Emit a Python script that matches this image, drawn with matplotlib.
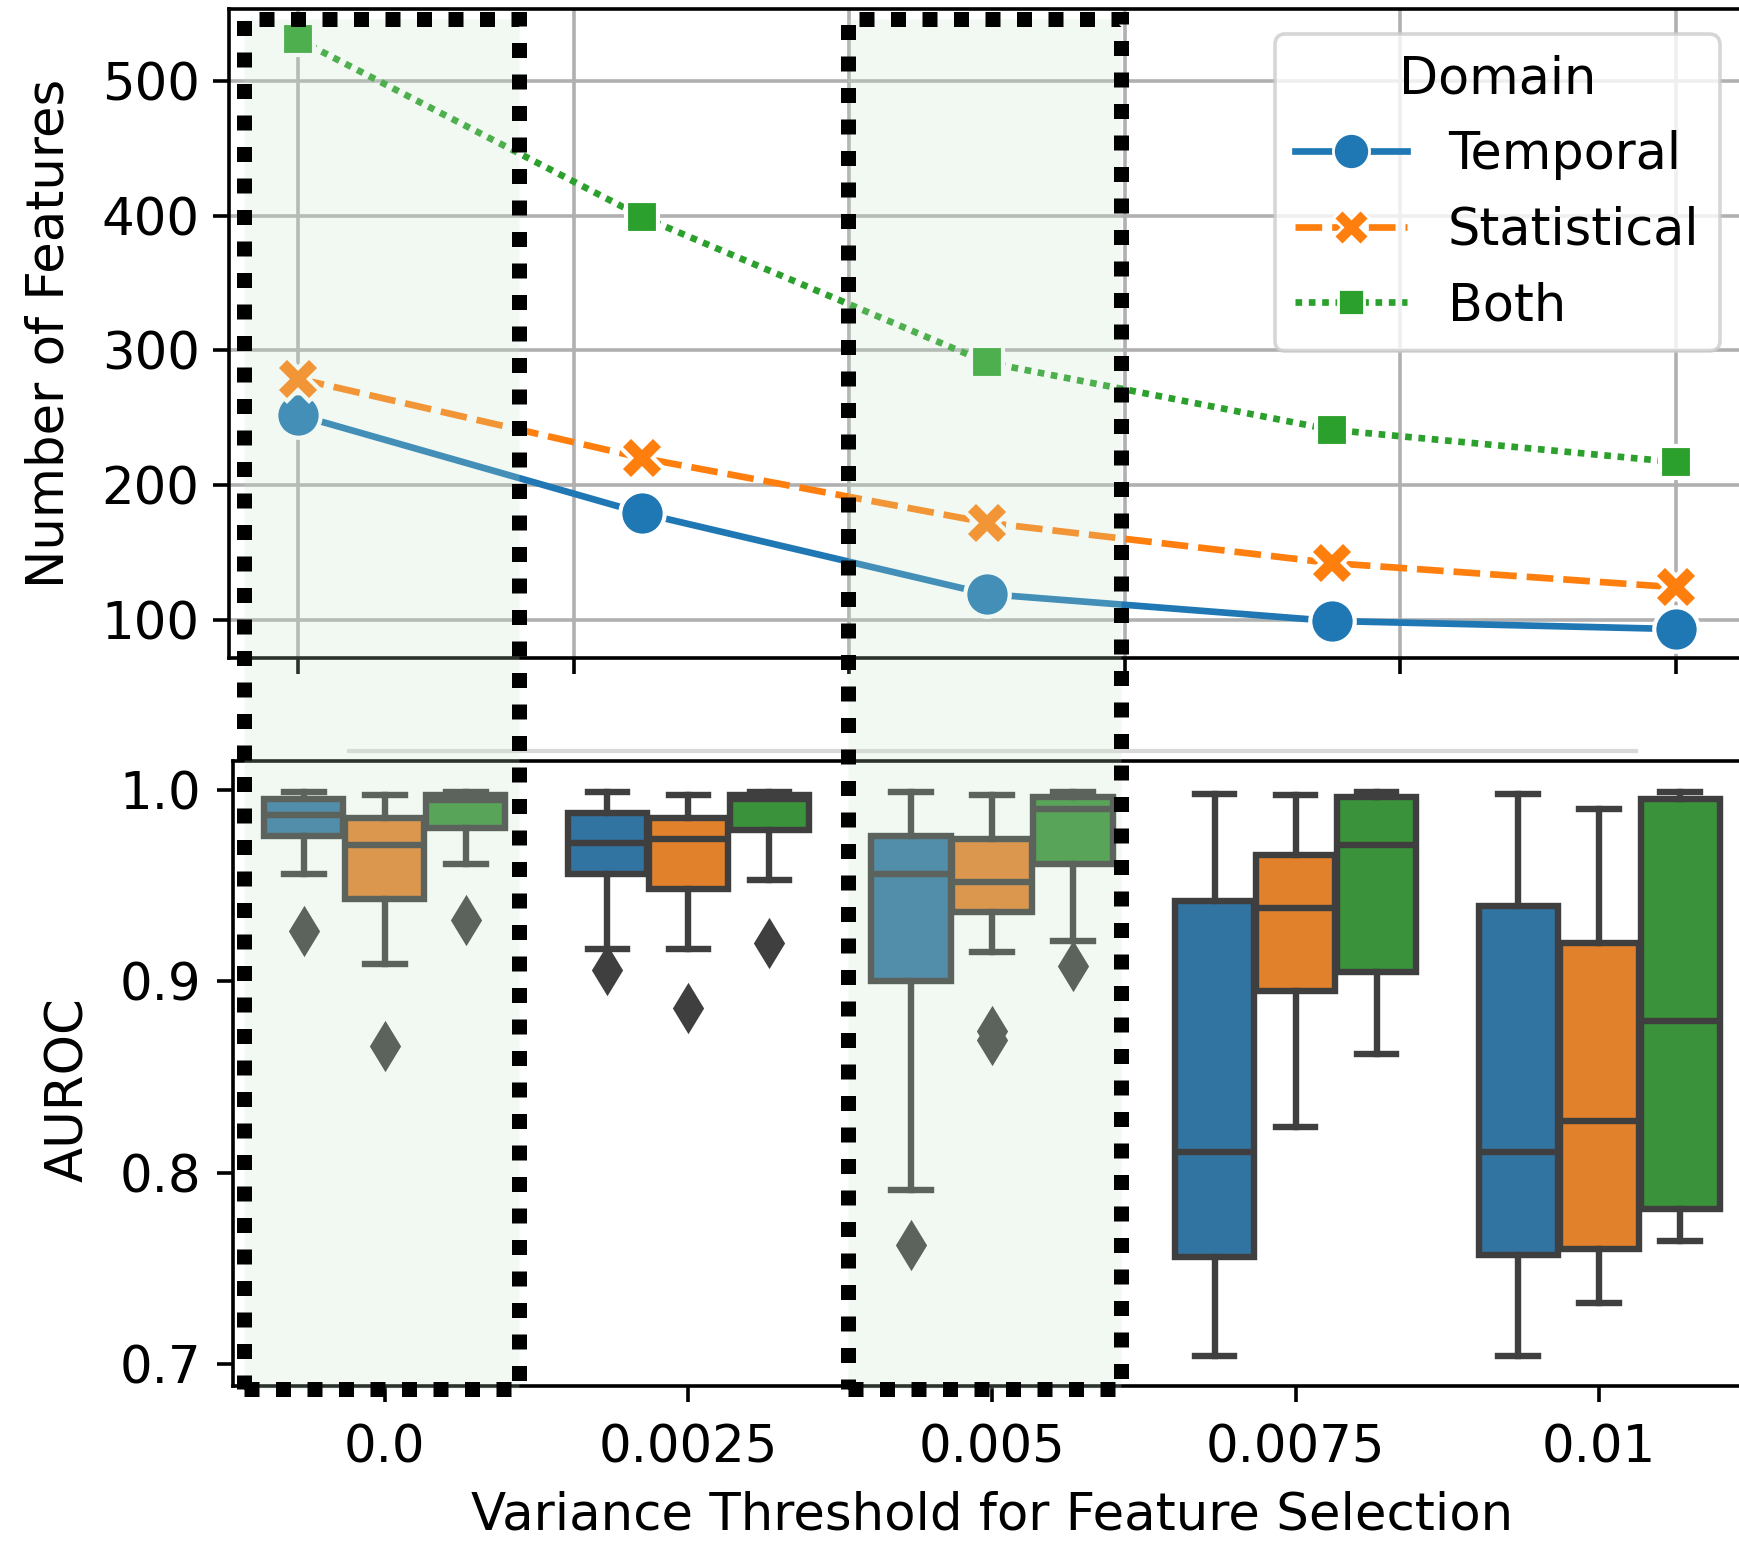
import matplotlib
matplotlib.use("Agg")
import matplotlib.pyplot as plt
from matplotlib.patches import Rectangle
from matplotlib.lines import Line2D

plt.rcParams['font.family'] = ['DejaVu Sans']
plt.rcParams['font.size'] = 18.5

W, H = 1739, 1541

thresholds = [0.0, 0.0025, 0.005, 0.0075, 0.01]
threshold_labels = ['0.0', '0.0025', '0.005', '0.0075', '0.01']
domains = ['Temporal', 'Statistical', 'Both']

# number of features kept after the variance threshold
n_temporal = [252, 179, 119, 99, 93]
n_statistical = [279, 220, 172, 142, 124]
n_both = [531, 399, 291, 241, 217]

# AUROC boxes per threshold: (whislo, q1, med, q3, whishi)
auroc_temporal = [
    (0.956, 0.976, 0.987, 0.995, 0.999),
    (0.917, 0.956, 0.972, 0.988, 0.999),
    (0.791, 0.900, 0.956, 0.976, 0.999),
    (0.704, 0.756, 0.811, 0.942, 0.998),
    (0.704, 0.757, 0.811, 0.939, 0.998),
]
fliers_temporal = [[0.926], [0.906], [0.762], [], []]

auroc_statistical = [
    (0.909, 0.943, 0.971, 0.985, 0.997),
    (0.917, 0.948, 0.974, 0.985, 0.997),
    (0.915, 0.936, 0.952, 0.974, 0.997),
    (0.824, 0.895, 0.938, 0.966, 0.997),
    (0.732, 0.760, 0.827, 0.920, 0.990),
]
fliers_statistical = [[0.866], [0.886], [0.874, 0.869], [], []]

auroc_both = [
    (0.961, 0.980, 0.9945, 0.997, 0.999),
    (0.953, 0.979, 0.995, 0.997, 0.999),
    (0.921, 0.961, 0.990, 0.996, 0.999),
    (0.862, 0.905, 0.971, 0.996, 0.999),
    (0.764, 0.781, 0.879, 0.995, 0.999),
]
fliers_both = [[0.932], [0.920], [0.908], [], []]

line_colors = ['#1f77b4', '#ff7f0e', '#2ca02c']
box_colors = ['#3274a1', '#e1812c', '#3a923a']
markers = ['o', 'X', (4, 0, 45)]
dashes = [(None, None), (0, (4, 1.5)), (0, (1, 1))]
edge = '#3f3f3f'


def fx(px):
    return px / W


def fy(px):
    return 1 - px / H


fig = plt.figure(figsize=(W / 200, H / 200), dpi=200)

# ---- top: number of features
ax1 = fig.add_axes([fx(229), fy(658), (1745 - 229) / W, (658 - 9) / H])
for vals, c, m, d in zip([n_temporal, n_statistical, n_both], line_colors, markers, dashes):
    ls = '-' if d[0] is None else d
    ax1.plot(thresholds, vals, color=c, lw=2.4, linestyle=ls, marker=m,
             ms=16, mec='white', mew=1.5, zorder=3)
ax1.set_xlim(-0.0005, 0.0105)
ax1.set_ylim(71.5, 553.5)
ax1.set_xticks([0, 0.002, 0.004, 0.006, 0.008, 0.01])
ax1.set_xticklabels([])
ax1.set_yticks([100, 200, 300, 400, 500])
ax1.grid(True, color='#b0b0b0', lw=1.3)
ax1.set_axisbelow(True)
ax1.set_ylabel('Number of Features')
ax1.yaxis.set_label_coords(-0.102, 0.5)
ax1.tick_params(length=5.6, width=1.3, pad=5)
for s in ax1.spines.values():
    s.set_linewidth(1.3)

handles = []
for name, c, m, d in zip(domains, line_colors, markers, dashes):
    ls = '-' if d[0] is None else d
    handles.append(Line2D([], [], color=c, lw=2.4, linestyle=ls, marker=m,
                          ms=13, mec='white', mew=1.0, label=name))
leg = ax1.legend(handles=handles, title='Domain', loc='upper right',
                 fontsize=18.3, title_fontsize=18.3, handlelength=2.2,
                 framealpha=0.8)
leg.get_frame().set_edgecolor('#cccccc')
leg.get_frame().set_linewidth(1.3)

# ---- bottom: AUROC boxes
ax2 = fig.add_axes([fx(233), fy(1386), (1751 - 233) / W, (1386 - 761) / H])
offsets = [-0.267, 0.0, 0.267]
groups = [(auroc_temporal, fliers_temporal), (auroc_statistical, fliers_statistical),
          (auroc_both, fliers_both)]
for (stats_list, fl), off, col in zip(groups, offsets, box_colors):
    stats = []
    for (lo, q1, med, q3, hi), f in zip(stats_list, fl):
        stats.append(dict(whislo=lo, q1=q1, med=med, q3=q3, whishi=hi, fliers=f))
    ax2.bxp(stats, positions=[i + off for i in range(len(thresholds))],
            widths=0.261, patch_artist=True, manage_ticks=False,
            boxprops=dict(facecolor=col, edgecolor=edge, lw=2.3),
            whiskerprops=dict(color=edge, lw=2.3),
            capprops=dict(color=edge, lw=2.3),
            medianprops=dict(color=edge, lw=2.3),
            flierprops=dict(marker='d', markerfacecolor=edge, markeredgecolor=edge,
                            markersize=11.5))
ax2.set_xlim(-0.5, 4.5)
ax2.set_ylim(0.6885, 1.015)
ax2.set_xticks(range(len(thresholds)))
ax2.set_xticklabels(threshold_labels)
ax2.set_yticks([0.7, 0.8, 0.9, 1.0])
ax2.set_ylabel('AUROC')
ax2.yaxis.set_label_coords(-0.0915, 0.475)
ax2.set_xlabel('Variance Threshold for Feature Selection')
ax2.xaxis.set_label_coords(0.5, -0.167)
ax2.tick_params(length=5.6, width=1.3, pad=6)
ax2.tick_params(axis='x', pad=8)
for s in ax2.spines.values():
    s.set_linewidth(1.3)

# faint frame edge between the panels
fig.add_artist(Line2D([fx(349), fx(1636)], [fy(751), fy(751)],
                      transform=fig.transFigure, color='#d9d9d9', lw=1.5, zorder=0.5))

# highlighted thresholds: dotted boxes across both panels
for left, right in [(244, 519), (848, 1121)]:
    r = Rectangle((fx(left), fy(1389)), (right - left) / W, (1389 - 19) / H,
                  transform=fig.transFigure, facecolor=(0.78, 0.9, 0.78, 0.22),
                  edgecolor='black', lw=5.4, linestyle=(0, (1, 1.1)), zorder=5)
    fig.add_artist(r)

fig.savefig('out.png', dpi=200)
